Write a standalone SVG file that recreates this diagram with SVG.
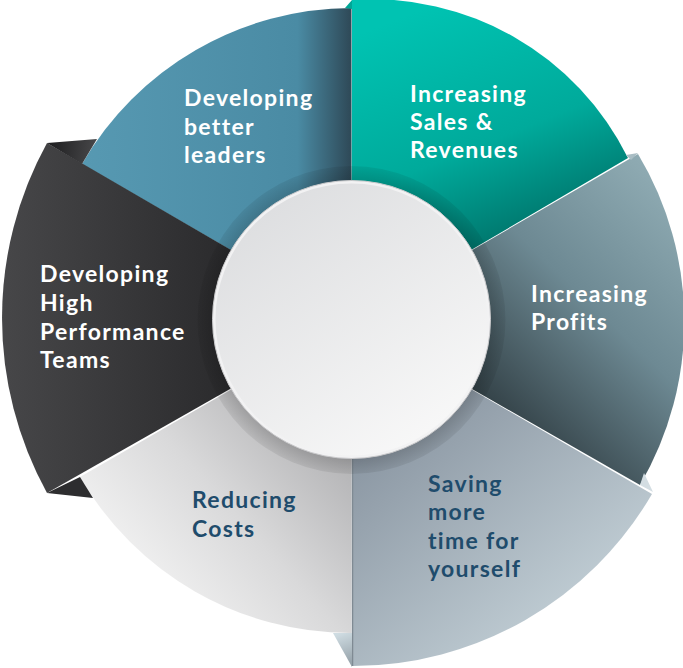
<svg xmlns="http://www.w3.org/2000/svg" width="683" height="668" viewBox="0 0 683 668">
<defs>
<linearGradient id="gTeal" gradientUnits="userSpaceOnUse" x1="420" y1="10" x2="520" y2="260"><stop offset="0" stop-color="#00c3b2"/><stop offset="0.55" stop-color="#00aa9b"/><stop offset="1" stop-color="#006a62"/></linearGradient>
<linearGradient id="gProfit" gradientUnits="userSpaceOnUse" x1="680" y1="200" x2="470" y2="420"><stop offset="0" stop-color="#8eaab2"/><stop offset="0.45" stop-color="#6d8993"/><stop offset="1" stop-color="#2a363b"/></linearGradient>
<linearGradient id="gSave" gradientUnits="userSpaceOnUse" x1="400" y1="420" x2="600" y2="660"><stop offset="0" stop-color="#8b97a3"/><stop offset="1" stop-color="#cbd8de"/></linearGradient>
<linearGradient id="gReduce" gradientUnits="userSpaceOnUse" x1="340" y1="440" x2="150" y2="610"><stop offset="0" stop-color="#b2b2b4"/><stop offset="0.5" stop-color="#d9d9da"/><stop offset="1" stop-color="#f4f4f4"/></linearGradient>
<linearGradient id="gDark" gradientUnits="userSpaceOnUse" x1="0" y1="0" x2="240" y2="0"><stop offset="0" stop-color="#474749"/><stop offset="1" stop-color="#29292b"/></linearGradient>
<linearGradient id="gBlue" gradientUnits="userSpaceOnUse" x1="80" y1="0" x2="352" y2="0"><stop offset="0" stop-color="#5799b2"/><stop offset="0.8" stop-color="#4a8ba4"/><stop offset="1" stop-color="#2e4856"/></linearGradient>
<linearGradient id="gFoldDark" gradientUnits="userSpaceOnUse" x1="47" y1="143" x2="97" y2="150"><stop offset="0" stop-color="#1c1c1e"/><stop offset="1" stop-color="#48484a"/></linearGradient>
<linearGradient id="gFoldLight" gradientUnits="userSpaceOnUse" x1="340" y1="633" x2="352" y2="667"><stop offset="0" stop-color="#cfdce2"/><stop offset="1" stop-color="#8f9ba3"/></linearGradient>
<linearGradient id="gCenter" gradientUnits="userSpaceOnUse" x1="260" y1="190" x2="440" y2="450"><stop offset="0" stop-color="#dcdddf"/><stop offset="1" stop-color="#f9f9f9"/></linearGradient>
<radialGradient id="gRing" gradientUnits="userSpaceOnUse" cx="351.5" cy="320" r="154"><stop offset="0.88" stop-color="#000" stop-opacity="0.2"/><stop offset="1" stop-color="#000" stop-opacity="0.07"/></radialGradient>
<style>
.lbl{font-family:Lato,"Open Sans","DejaVu Sans",sans-serif;font-weight:700;font-size:23px;letter-spacing:1.3px}
.w{fill:#ffffff}
.n{fill:#1f4c6c}
</style>
</defs>
<g id="connectors"/>
<g id="seg-leaders">
<path d="M351.5,320 L82,164 A312,312 0 0 1 351.5,8 Z" fill="url(#gBlue)"/>
<text class="lbl w" x="184" y="106">Developing</text>
<text class="lbl w" x="184" y="135">better</text>
<text class="lbl w" x="184" y="163">leaders</text>
</g>
<g id="seg-sales">
<path d="M351.5,320 L352,0 A285,285 0 0 1 628,158 Z" fill="url(#gTeal)"/>
<path d="M345,8 L352,0 L352,9 Z" fill="#00a696"/>
<text class="lbl w" x="410" y="102">Increasing</text>
<text class="lbl w" x="410" y="130">Sales &amp;</text>
<text class="lbl w" x="410" y="158">Revenues</text>
</g>
<g id="seg-profits">
<path d="M351.5,320 L638,154 A325,325 0 0 1 640,485 Z" fill="url(#gProfit)"/>
<path d="M626,155 L638,153 L631,160 Z" fill="#a9bdc4"/>
<text class="lbl w" x="531" y="302">Increasing</text>
<text class="lbl w" x="531" y="330">Profits</text>
</g>
<g id="seg-time">
<path d="M351.5,320 L652,494 A346,346 0 0 1 352,666 Z" fill="url(#gSave)"/>
<path d="M640,485 L644,473 L653,492 Z" fill="#d3dde2"/>
<line x1="352.5" y1="455" x2="352.5" y2="666" stroke="#7f8a93" stroke-width="1.5"/>
<text class="lbl n" x="428" y="492">Saving</text>
<text class="lbl n" x="428" y="520">more</text>
<text class="lbl n" x="428" y="549">time for</text>
<text class="lbl n" x="428" y="577">yourself</text>
</g>
<g id="seg-costs">
<path d="M351.5,320 L351.5,633 A313,313 0 0 1 80,477 Z" fill="url(#gReduce)"/>
<path d="M333,633 L352,633 L352,667 Z" fill="url(#gFoldLight)"/>
<text class="lbl n" x="192" y="508">Reducing</text>
<text class="lbl n" x="192" y="537">Costs</text>
</g>
<g id="seg-teams">
<path d="M351.5,320 L47,143 A363,363 0 0 0 47,493 Z" fill="url(#gDark)"/>
<path d="M47,143 L97,139 L82,164 Z" fill="url(#gFoldDark)"/>
<path d="M47,493 L93,498 L80,477 Z" fill="#2d2d2f"/>
<text class="lbl w" x="40" y="282">Developing</text>
<text class="lbl w" x="40" y="311">High</text>
<text class="lbl w" x="40" y="340">Performance</text>
<text class="lbl w" x="40" y="368">Teams</text>
</g>
<g id="center">
<circle cx="351.5" cy="320" r="154" fill="url(#gRing)"/>
<circle cx="351.5" cy="319.5" r="137.5" fill="url(#gCenter)" stroke="#f2f2f3" stroke-width="3"/>
<circle cx="351.5" cy="319.5" r="139" fill="none" stroke="#c9c9cb" stroke-width="1"/>
</g>
</svg>
